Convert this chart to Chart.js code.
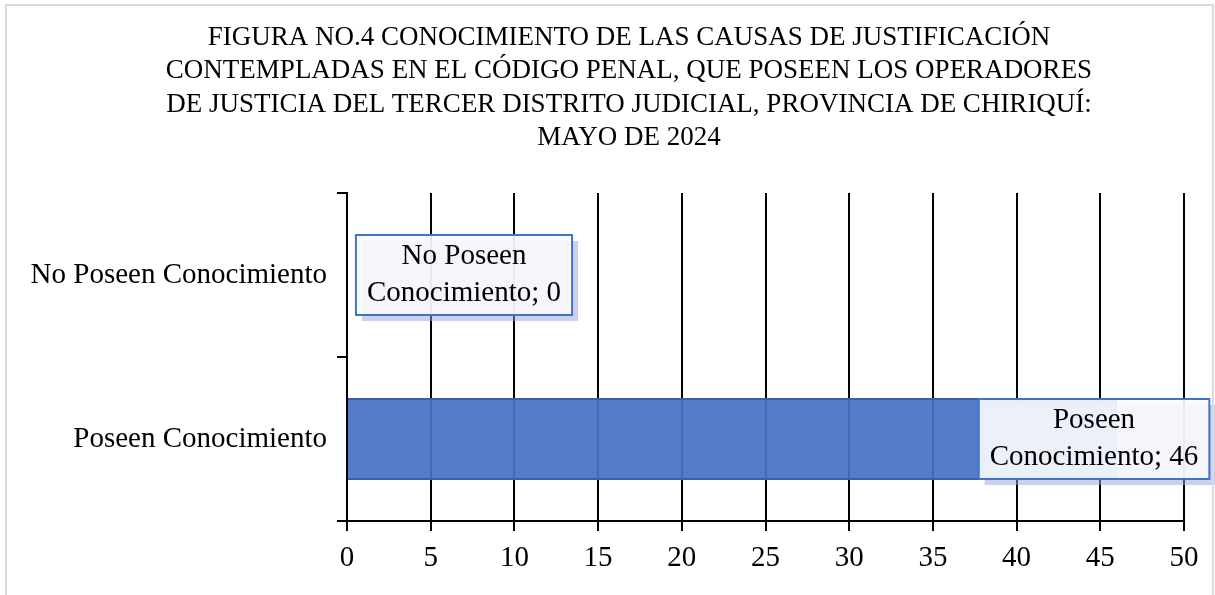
<!DOCTYPE html>
<html>
  <head>
    <meta charset="utf-8">
    <style>
      html, body {
        margin: 0;
        background: #fff;
        overflow: hidden;
      }
      #frame {
        position: absolute;
        left: 5px;
        top: 4px;
        width: 1209px;
        height: 700px;
        border: 2px solid #DADADA;
        box-sizing: border-box;
        pointer-events: none;
      }
      #chart-container {
        position: absolute;
        left: 0;
        top: 0;
        width: 1215px;
        height: 595px;
      }
    </style>
  </head>
  <body>
    <div id="chart-container"><canvas id="chart"></canvas></div>
    <div id="frame"></div>

    <script src="https://cdn.jsdelivr.net/npm/chart.js"></script>
    <script>
      const titleLines = [
        "FIGURA NO.4 CONOCIMIENTO DE LAS CAUSAS DE JUSTIFICACIÓN",
        "CONTEMPLADAS EN EL CÓDIGO PENAL, QUE POSEEN LOS OPERADORES",
        "DE JUSTICIA DEL TERCER DISTRITO JUDICIAL, PROVINCIA DE CHIRIQUÍ:",
        "MAYO DE 2024"
      ];
      const categories = ["No Poseen Conocimiento", "Poseen Conocimiento"];
      const values = [0, 46];
      const valueLabels = [["No Poseen", "Conocimiento; 0"], ["Poseen", "Conocimiento; 46"]];
      const xMin = 0, xMax = 50, xStep = 5;

      const serif = "'Liberation Serif', 'Times New Roman', serif";

      // title drawn by hand so it can sit a bit right of the page centre
      const titleBlock = {
        id: "titleBlock",
        afterDraw(chart, args, opts) {
          const ctx = chart.ctx;
          ctx.save();
          ctx.font = opts.fontSize + "px " + serif;
          ctx.fillStyle = "#000";
          ctx.textAlign = "center";
          ctx.textBaseline = "middle";
          titleLines.forEach(function (t, i) {
            ctx.fillText(t, opts.centerX, opts.firstY + i * opts.lineHeight);
          });
          ctx.restore();
        }
      };

      // boxed data labels with a drop shadow, like the Excel callouts
      const valueBoxes = {
        id: "valueBoxes",
        afterDatasetsDraw(chart, args, opts) {
          const ctx = chart.ctx;
          const meta = chart.getDatasetMeta(0);
          ctx.save();
          ctx.font = opts.fontSize + "px " + serif;
          meta.data.forEach(function (bar, i) {
            const lines = valueLabels[i];
            const w = Math.max(...lines.map(t => ctx.measureText(t).width)) + opts.padX * 2;
            const h = lines.length * opts.lineHeight + opts.padY * 2;
            const cx = bar.x + opts.shift[i];
            const left = cx - w / 2;
            const top = bar.y - h / 2;

            ctx.fillStyle = opts.shadowColor;
            ctx.fillRect(left + 6, top + 6, w, h);

            ctx.fillStyle = opts.fill;
            ctx.fillRect(left, top, w, h);
            ctx.strokeStyle = opts.border;
            ctx.lineWidth = 2;
            ctx.strokeRect(left, top, w, h);

            ctx.fillStyle = "#000";
            ctx.textAlign = "center";
            ctx.textBaseline = "middle";
            lines.forEach(function (t, j) {
              ctx.fillText(t, cx, top + opts.padY + opts.lineHeight * (j + 0.5));
            });
          });
          ctx.restore();
        }
      };

      const tickFont = { family: serif, size: 29, weight: "normal" };

      new Chart(document.getElementById("chart"), {
        type: "bar",
        data: {
          labels: categories,
          datasets: [{
            data: values,
            backgroundColor: "rgba(68, 114, 196, 0.92)",
            borderColor: "#3B5FA6",
            borderWidth: 2,
            barPercentage: 0.5,
            categoryPercentage: 1
          }]
        },
        options: {
          indexAxis: "y",
          responsive: true,
          maintainAspectRatio: false,
          animation: false,
          layout: {
            padding: { left: 10, right: 31, top: 193, bottom: 0 }
          },
          plugins: {
            legend: { display: false },
            tooltip: { enabled: false },
            title: { display: false },
            titleBlock: {
              fontSize: 27,
              lineHeight: 33.5,
              centerX: 629,
              firstY: 37.5
            },
            valueBoxes: {
              fontSize: 29,
              lineHeight: 37,
              padX: 11,
              padY: 3,
              shift: [117, -23],
              fill: "rgba(250, 251, 254, 0.9)",
              border: "#4472C4",
              shadowColor: "rgba(150, 168, 206, 0.5)"
            }
          },
          scales: {
            x: {
              min: xMin,
              max: xMax,
              ticks: { stepSize: xStep, color: "#000", font: tickFont, padding: 10 },
              grid: { color: "#000", lineWidth: 2, tickLength: 10 },
              border: { color: "#000", width: 2 },
              afterFit: function (scale) { scale.height = 74; }
            },
            y: {
              ticks: { color: "#000", font: tickFont, padding: 10 },
              grid: { drawOnChartArea: false, color: "#000", lineWidth: 2, tickLength: 10, offset: true },
              border: { color: "#000", width: 2 },
              afterFit: function (scale) { scale.width = 337; }
            }
          }
        },
        plugins: [titleBlock, valueBoxes]
      });
    </script>
  </body>
</html>
